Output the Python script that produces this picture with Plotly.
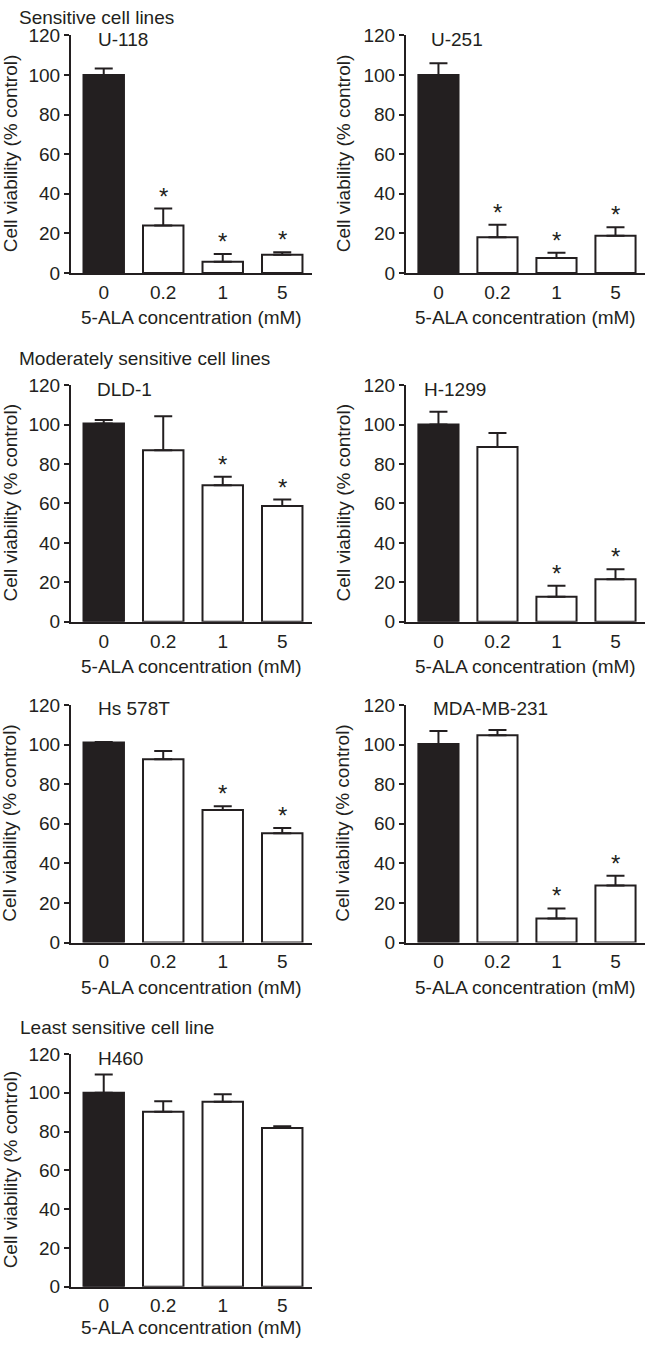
import plotly.graph_objects as go

# ---------------- data ----------------
concentrations = ["0", "0.2", "1", "5"]

cell_lines = ["U-118", "U-251", "DLD-1", "H-1299", "Hs 578T", "MDA-MB-231", "H460"]

u118_mean = [100, 24, 5.7, 9.2]
u118_err = [3.3, 8.5, 3.9, 1.2]
u118_sig = [False, True, True, True]

u251_mean = [100, 18, 7.6, 18.8]
u251_err = [5.9, 6.4, 2.6, 4.3]
u251_sig = [False, True, True, True]

dld1_mean = [100.5, 87, 69.2, 58.7]
dld1_err = [1.8, 17.3, 4.3, 3.3]
dld1_sig = [False, False, True, True]

h1299_mean = [100, 88.7, 12.7, 21.5]
h1299_err = [6.5, 7.0, 5.6, 5.1]
h1299_sig = [False, False, True, True]

hs578t_mean = [101, 92.6, 67, 55.2]
hs578t_err = [0.3, 4.2, 1.9, 2.7]
hs578t_sig = [False, False, True, True]

mda_mean = [100.3, 104.7, 12.1, 28.8]
mda_err = [6.6, 2.7, 5.1, 4.9]
mda_sig = [False, False, True, True]

h460_mean = [100.1, 90.3, 95.4, 81.9]
h460_err = [9.3, 5.3, 3.9, 0.9]
h460_sig = [False, False, False, False]

section_titles = ["Sensitive cell lines", "Moderately sensitive cell lines", "Least sensitive cell line"]
y_title = "Cell viability (% control)"
x_title = "5-ALA concentration (mM)"
y_ticks = [0, 20, 40, 60, 80, 100, 120]

# ---------------- layout geometry (target pixels) ----------------
W, H = 647, 1347
FONT = "Liberation Sans, Arial, Helvetica, sans-serif"
FS = 19
INK = "#231f20"

cols = [(71, 312), (406, 645)]
rows = [(35, 272.7), (385, 621.7), (705, 942.7), (1054.3, 1287.0)]

panels = [
    # (name, mean, err, sig, row, col, label_left_px)
    ("U-118", u118_mean, u118_err, u118_sig, 0, 0, 96),
    ("U-251", u251_mean, u251_err, u251_sig, 0, 1, 429),
    ("DLD-1", dld1_mean, dld1_err, dld1_sig, 1, 0, 95),
    ("H-1299", h1299_mean, h1299_err, h1299_sig, 1, 1, 422),
    ("Hs 578T", hs578t_mean, hs578t_err, hs578t_sig, 2, 0, 96),
    ("MDA-MB-231", mda_mean, mda_err, mda_sig, 2, 1, 431),
    ("H460", h460_mean, h460_err, h460_sig, 3, 0, 96),
]
section_pos = [(17, 8.5), (17, 358), (18, 1028)]
ytitle_x = [10, 343]

# vertical correction for the capture (picture = 0.985 * page + 9.6)
V_SCALE, V_OFF = 0.985, 9.6


def px(x):
    return x / W


def vy(y):
    # target picture y -> page y
    return (y - V_OFF) / V_SCALE


def py(y, lo=8.0, hi=H - 9.0):
    p = min(max(vy(y), lo), hi)
    return 1 - p / H


fig = go.Figure()
annotations = []

for i, (name, mean, err, sig, r, c, lab_x) in enumerate(panels):
    k = "" if i == 0 else str(i + 1)
    xa, ya = "x" + k, "y" + k
    colors = [INK] + ["white"] * (len(mean) - 1)
    fig.add_trace(go.Bar(
        x=concentrations, y=mean, xaxis=xa, yaxis=ya,
        marker=dict(color=colors, line=dict(color=INK, width=2)),
        width=0.68,
        error_y=dict(type="data", symmetric=False, array=err,
                     arrayminus=[0] * len(err), color=INK, thickness=2, width=9),
        showlegend=False, hoverinfo="skip",
    ))
    x0, x1 = cols[c]
    top, bot = rows[r]
    fig.layout["xaxis" + k] = dict(
        domain=[px(x0), px(x1)], anchor=ya, type="category",
        categoryorder="array", categoryarray=concentrations,
        range=[-0.55, 3.5], showline=True, linecolor=INK, linewidth=2,
        ticks="outside", ticklen=1, tickcolor="rgba(0,0,0,0)",
        showgrid=False, zeroline=False, fixedrange=True,
        tickfont=dict(family=FONT, size=FS, color=INK),
    )
    fig.layout["yaxis" + k] = dict(
        domain=[py(bot, 0, H), py(top, 0, H)], anchor=xa, range=[0, 120],
        tickvals=y_ticks, showline=True, linecolor=INK, linewidth=2,
        ticks="outside", ticklen=5, tickwidth=2, tickcolor=INK,
        showgrid=False, zeroline=False, fixedrange=True,
        tickfont=dict(family=FONT, size=FS, color=INK),
    )
    # panel label
    annotations.append(dict(text=name, x=px(lab_x), y=py(top + 4), xref="paper", yref="paper",
                            xanchor="left", yanchor="middle", showarrow=False,
                            font=dict(family=FONT, size=FS, color=INK)))
    # significance stars (x given as category index)
    for j, (m, e, s) in enumerate(zip(mean, err, sig)):
        if s:
            annotations.append(dict(text="*", x=j, y=m + e, xref=xa, yref=ya,
                                    xanchor="center", yanchor="bottom", showarrow=False,
                                    yshift=-3,
                                    font=dict(family=FONT, size=24, color=INK)))
    # y title
    annotations.append(dict(text=y_title, x=px(ytitle_x[c]), y=py((top + bot) / 2),
                            xref="paper", yref="paper", textangle=-90,
                            xanchor="center", yanchor="middle", showarrow=False,
                            font=dict(family=FONT, size=FS, color=INK)))
    # x title
    annotations.append(dict(text=x_title, x=px((x0 + x1) / 2), y=py(bot + 45),
                            xref="paper", yref="paper",
                            xanchor="center", yanchor="middle", showarrow=False,
                            font=dict(family=FONT, size=FS, color=INK)))

for t, (sx, sy) in zip(section_titles, section_pos):
    annotations.append(dict(text=t, x=px(sx), y=py(sy), xref="paper", yref="paper",
                            xanchor="left", yanchor="middle", showarrow=False,
                            font=dict(family=FONT, size=FS, color=INK)))

fig.update_layout(
    width=W, height=H, margin=dict(l=0, r=0, t=0, b=0),
    paper_bgcolor="white", plot_bgcolor="white",
    annotations=annotations, bargap=0.3,
    font=dict(family=FONT, size=FS, color=INK),
)

fig.write_html(
    "out.html",
    config={"displayModeBar": False},
    post_script=(
        "document.documentElement.style.margin='0';"
        "document.documentElement.style.padding='0';"
        "document.documentElement.style.overflow='hidden';"
        "document.body.style.margin='0';"
        "document.body.style.padding='0';"
        "document.body.style.overflow='hidden';"
        "var d=document.getElementById('{plot_id}');"
        "d.style.position='fixed';d.style.top='0px';d.style.left='0px';"
    ),
)
